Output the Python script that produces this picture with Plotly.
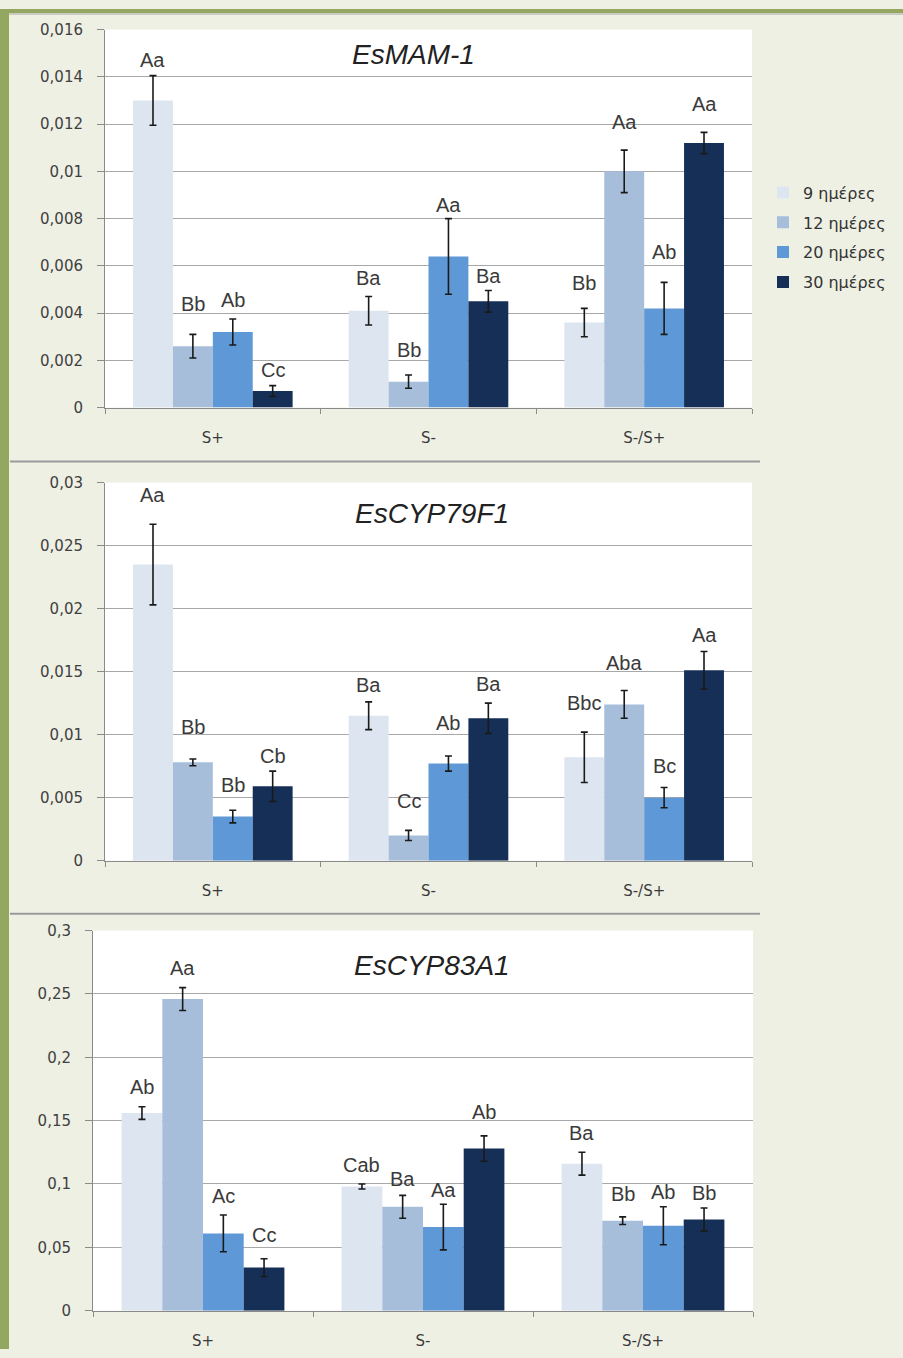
import plotly.graph_objects as go

categories = ["S+", "S-", "S-/S+"]
days = ["9 ημέρες", "12 ημέρες", "20 ημέρες", "30 ημέρες"]
colors = ["#DDE5F1", "#A7BEDB", "#5E98D6", "#152F57"]

titles = ["EsMAM-1", "EsCYP79F1", "EsCYP83A1"]

# EsMAM-1 : one list per series (9, 12, 20, 30 days) across categories
mam_9 = [0.0130, 0.0041, 0.0036]
mam_12 = [0.0026, 0.0011, 0.0100]
mam_20 = [0.0032, 0.0064, 0.0042]
mam_30 = [0.0007, 0.0045, 0.0112]
mam_err_9 = [0.00105, 0.0006, 0.0006]
mam_err_12 = [0.0005, 0.00028, 0.0009]
mam_err_20 = [0.00055, 0.0016, 0.0011]
mam_err_30 = [0.00023, 0.00046, 0.00045]
mam_lab_9 = ["Aa", "Ba", "Bb"]
mam_lab_12 = ["Bb", "Bb", "Aa"]
mam_lab_20 = ["Ab", "Aa", "Ab"]
mam_lab_30 = ["Cc", "Ba", "Aa"]

# EsCYP79F1
c79_9 = [0.0235, 0.0115, 0.0082]
c79_12 = [0.0078, 0.0020, 0.0124]
c79_20 = [0.0035, 0.0077, 0.0050]
c79_30 = [0.0059, 0.0113, 0.0151]
c79_err_9 = [0.0032, 0.0011, 0.0020]
c79_err_12 = [0.00027, 0.0004, 0.0011]
c79_err_20 = [0.0005, 0.0006, 0.0008]
c79_err_30 = [0.0012, 0.0012, 0.0015]
c79_lab_9 = ["Aa", "Ba", "Bbc"]
c79_lab_12 = ["Bb", "Cc", "Aba"]
c79_lab_20 = ["Bb", "Ab", "Bc"]
c79_lab_30 = ["Cb", "Ba", "Aa"]

# EsCYP83A1
c83_9 = [0.156, 0.098, 0.116]
c83_12 = [0.246, 0.082, 0.071]
c83_20 = [0.061, 0.066, 0.067]
c83_30 = [0.034, 0.128, 0.072]
c83_err_9 = [0.005, 0.002, 0.009]
c83_err_12 = [0.009, 0.009, 0.003]
c83_err_20 = [0.0145, 0.018, 0.015]
c83_err_30 = [0.007, 0.010, 0.009]
c83_lab_9 = ["Ab", "Cab", "Ba"]
c83_lab_12 = ["Aa", "Ba", "Bb"]
c83_lab_20 = ["Ac", "Aa", "Ab"]
c83_lab_30 = ["Cc", "Ab", "Bb"]

y_ticks_1 = [0, 0.002, 0.004, 0.006, 0.008, 0.010, 0.012, 0.014, 0.016]
y_text_1 = ["0", "0,002", "0,004", "0,006", "0,008", "0,01", "0,012", "0,014", "0,016"]
y_ticks_2 = [0, 0.005, 0.010, 0.015, 0.020, 0.025, 0.030]
y_text_2 = ["0", "0,005", "0,01", "0,015", "0,02", "0,025", "0,03"]
y_ticks_3 = [0, 0.05, 0.10, 0.15, 0.20, 0.25, 0.30]
y_text_3 = ["0", "0,05", "0,1", "0,15", "0,2", "0,25", "0,3"]

panels = [
    dict(vals=[mam_9, mam_12, mam_20, mam_30],
         errs=[mam_err_9, mam_err_12, mam_err_20, mam_err_30],
         labs=[mam_lab_9, mam_lab_12, mam_lab_20, mam_lab_30],
         tv=y_ticks_1, tt=y_text_1),
    dict(vals=[c79_9, c79_12, c79_20, c79_30],
         errs=[c79_err_9, c79_err_12, c79_err_20, c79_err_30],
         labs=[c79_lab_9, c79_lab_12, c79_lab_20, c79_lab_30],
         tv=y_ticks_2, tt=y_text_2),
    dict(vals=[c83_9, c83_12, c83_20, c83_30],
         errs=[c83_err_9, c83_err_12, c83_err_20, c83_err_30],
         labs=[c83_lab_9, c83_lab_12, c83_lab_20, c83_lab_30],
         tv=y_ticks_3, tt=y_text_3),
]

# ---- layout geometry (target pixels in the 903 x 1358 picture) ----
W, H = 903, 1358
# vertical correction so that the photographed page lands on the target pixels
V_OFF, V_SCALE = 8.4, 0.9867


def fy(y):
    """target picture y (px from top) -> paper fraction"""
    return 1 - ((y - V_OFF) / V_SCALE) / H


plot_px = [  # left, right, top, bottom
    (105, 752, 29, 407),
    (105, 752, 482, 860),
    (93, 753, 930, 1310),
]
title_px = [(413, 54), (432, 513), (432, 965)]
# extra vertical offset (px) of each letter label above its error bar, [series][category]
label_shift = [
    [[16, 19, 25], [30, 25, 28], [19, 14, 30], [16, 14, 28]],
    [[29, 17, 29], [32, 29, 28], [25, 33, 22], [15, 19, 16]],
    [[20, 19, 19], [20, 16, 23], [19, 14, 15], [24, 24, 15]],
]

BARGAP = 0.26
fig = go.Figure()
annotations = []
layout_axes = {}

for p, panel in enumerate(panels):
    xa = "x" if p == 0 else f"x{p+1}"
    ya = "y" if p == 0 else f"y{p+1}"
    for s in range(4):
        fig.add_trace(go.Bar(
            x=categories, y=panel["vals"][s], name=days[s],
            marker=dict(color=colors[s], line=dict(width=0)),
            error_y=dict(type="data", array=panel["errs"][s], color="#1a1a1a",
                         thickness=1.6, width=3.5),
            xaxis=xa, yaxis=ya, showlegend=(p == 0), legendgroup=f"g{s}",
        ))
        bw = (1 - BARGAP) / 4
        for c in range(3):
            annotations.append(dict(
                x=c + (s - 1.5) * bw, y=panel["vals"][s][c] + panel["errs"][s][c],
                xref=xa, yref=ya, text=panel["labs"][s][c], showarrow=False,
                yanchor="middle", yshift=label_shift[p][s][c],
                font=dict(family="Liberation Sans", size=20, color="#3a3a3a"),
            ))
    l, r, t, b = plot_px[p]
    xname = "xaxis" if p == 0 else f"xaxis{p+1}"
    yname = "yaxis" if p == 0 else f"yaxis{p+1}"
    layout_axes[xname] = dict(
        domain=[l / W, r / W], anchor=ya, type="category",
        tickson="boundaries", ticks="outside", ticklen=5, tickcolor="#8a8a8a",
        showline=True, linecolor="#8a8a8a", linewidth=1, showgrid=False,
        tickfont=dict(family="DejaVu Sans", size=15, color="#3a3a3a"),
        ticklabelstandoff=16,
    )
    layout_axes[yname] = dict(
        domain=[fy(b), fy(t)], anchor=xa,
        range=[0, panel["tv"][-1]], tickvals=panel["tv"], ticktext=panel["tt"],
        ticks="outside", ticklen=7, tickcolor="#8a8a8a",
        showline=True, linecolor="#8a8a8a", linewidth=1,
        showgrid=True, gridcolor="#a8a8a8", gridwidth=1, zeroline=False,
        tickfont=dict(family="DejaVu Sans", size=15, color="#404040"),
        ticklabelstandoff=11,
    )
    tx, ty = title_px[p]
    annotations.append(dict(
        x=tx / W, y=fy(ty), xref="paper", yref="paper", text=titles[p],
        showarrow=False, xanchor="center", yanchor="middle",
        font=dict(family="Liberation Sans", size=28, color="#222", style="italic"),
    ))

shapes = [
    # panel separators
    dict(type="line", xref="paper", yref="paper", x0=10 / W, x1=760 / W,
         y0=fy(461), y1=fy(461), line=dict(color="#9a9a9a", width=2)),
    dict(type="line", xref="paper", yref="paper", x0=10 / W, x1=760 / W,
         y0=fy(913), y1=fy(913), line=dict(color="#9a9a9a", width=2)),
    # green frame (top and left)
    dict(type="rect", xref="paper", yref="paper", x0=0, x1=1, y0=1 - 4 / H, y1=1,
         fillcolor="#94A760", line=dict(width=0), layer="above"),
    dict(type="rect", xref="paper", yref="paper", x0=0, x1=9 / W, y0=0, y1=1,
         fillcolor="#94A760", line=dict(width=0), layer="above"),
    dict(type="line", xref="paper", yref="paper", x0=9 / W, x1=1,
         y0=1 - 5 / H, y1=1 - 5 / H, line=dict(color="#c9cbc0", width=2)),
]

fig.update_layout(
    width=W, height=H, margin=dict(l=0, r=0, t=0, b=0),
    paper_bgcolor="#EEF0E4", plot_bgcolor="#FFFFFF",
    barmode="group", bargap=BARGAP, bargroupgap=0,
    annotations=annotations, shapes=shapes,
    legend=dict(x=763 / W, y=fy(175), xanchor="left", yanchor="top",
                bgcolor="rgba(0,0,0,0)", tracegroupgap=6, itemwidth=30,
                font=dict(family="DejaVu Sans", size=16, color="#333")),
    **layout_axes,
)

page_js = (
    "document.documentElement.style.margin='0';"
    "document.body.style.margin='0';document.body.style.padding='0';"
    "document.body.style.overflow='hidden';"
    "var gd=document.getElementById('{plot_id}');"
    "gd.style.position='fixed';gd.style.top='0px';gd.style.left='0px';"
)

fig.write_html("out.html", config={"displayModeBar": False}, post_script=page_js)
